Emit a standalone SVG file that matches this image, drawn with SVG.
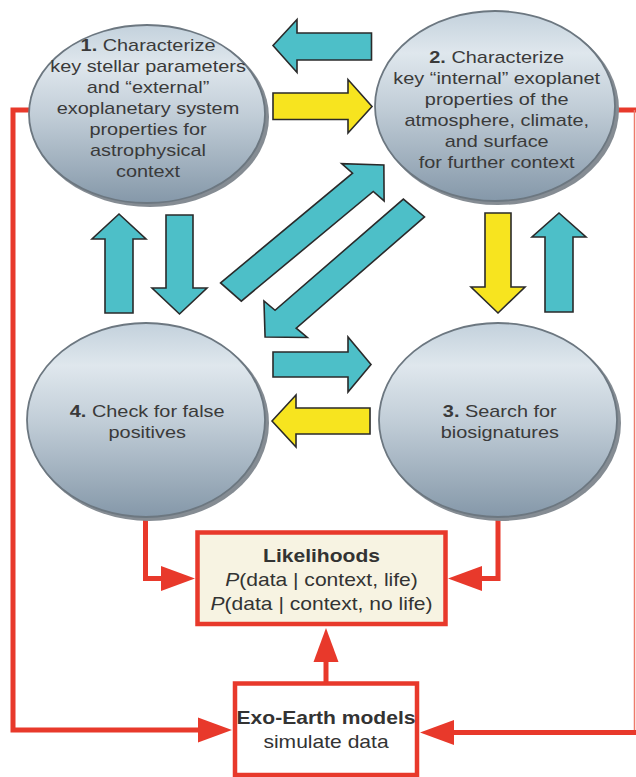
<svg xmlns="http://www.w3.org/2000/svg" width="636" height="777" viewBox="0 0 636 777">
<defs>
<linearGradient id="eg" x1="0" y1="0" x2="0" y2="1">
<stop offset="0" stop-color="#c3d1dc"/>
<stop offset="0.22" stop-color="#dfe7ed"/>
<stop offset="0.5" stop-color="#c2ced8"/>
<stop offset="1" stop-color="#8598a9"/>
</linearGradient>
<marker id="rh" markerUnits="userSpaceOnUse" viewBox="0 -13 36 26" markerWidth="36" markerHeight="26" refX="1" refY="0" orient="auto">
<path d="M0,-12.5 L34,0 L0,12.5 z" fill="#e8392b"/>
</marker>
<style>
.shadow{fill:#858c93}
.ell{fill:url(#eg);stroke:#6c7780;stroke-width:1.8}
.t{font-family:"Liberation Sans",Arial,Helvetica,sans-serif;font-size:17px;fill:#3a3a3a;text-anchor:middle}
.bt{font-family:"Liberation Sans",Arial,Helvetica,sans-serif;font-size:18px;fill:#333;text-anchor:middle}
.b{font-weight:bold}
.i{font-style:italic}
.cy{fill:#4dbfc8;stroke:#2a2a2a;stroke-width:1.6;stroke-linejoin:miter}
.ye{fill:#f7e41f;stroke:#2a2a2a;stroke-width:1.6;stroke-linejoin:miter}
.red{fill:none;stroke:#e8392b;stroke-width:5;stroke-linejoin:miter}
.box{stroke:#e8392b;stroke-width:4.5}
</style>
</defs>
<rect width="636" height="777" fill="#ffffff"/>

<g id="connectors">
<!-- red loops -->
<polyline class="red" points="29,110 13,110 13,730 199,730" marker-end="url(#rh)"/>
<polyline class="red" points="616,110 636,110"/>
<line x1="634.5" y1="110" x2="634.5" y2="732" stroke="#ef7a6c" stroke-width="1.5"/>
<polyline class="red" points="636,732.5 453,732.5" marker-end="url(#rh)"/>
<polyline class="red" points="145.5,518 145.5,578.5 162,578.5" marker-end="url(#rh)"/>
<polyline class="red" points="498,518 498,578.5 481,578.5" marker-end="url(#rh)"/>
<polyline class="red" points="326,683 326,661" marker-end="url(#rh)"/>

<!-- block arrows -->
<polygon class="cy" points="273,45.5 297,19.5 297,33 371.5,33 371.5,60 297,60 297,72.5"/>
<polygon class="ye" points="273,93 348,93 348,79.5 372,106.5 348,133 348,119.5 273,119.5"/>
<polygon class="cy" points="119,214 146,239 133,239 133,313 105,313 105,239 92,239"/>
<polygon class="cy" points="166,215 193,215 193,288 207,288 179.5,314 152,288 166,288"/>
<polygon class="ye" points="485,213 511,213 511,287 525,287 498,313 471,287 485,287"/>
<polygon class="cy" points="559,213 586,237 573,237 573,312 545,312 545,237 532,237"/>
<polygon class="cy" points="273,352 348,352 348,337 371,364.5 348,392 348,377 273,377"/>
<polygon class="ye" points="272,421 296,395 296,408 370,408 370,434 296,434 296,447"/>
<g transform="scale(1.17,1) translate(197.4,292) rotate(-44.2)">
<polygon class="cy" vector-effect="non-scaling-stroke" points="0,-12.7 157.3,-12.7 157.3,-26 182.3,0 157.3,26 157.3,12.7 0,12.7"/>
</g>
<g transform="scale(1.17,1) translate(353.8,208) rotate(134.6)">
<polygon class="cy" vector-effect="non-scaling-stroke" points="0,-12.7 156.2,-12.7 156.2,-26 181.2,0 156.2,26 156.2,12.7 0,12.7"/>
</g>
</g>

<g id="node1">
<ellipse class="shadow" cx="150" cy="117" rx="119" ry="90"/>
<ellipse class="ell" cx="147" cy="114" rx="118" ry="89"/>
<g transform="translate(148,0) scale(1.17,1)">
<text class="t" y="50.7"><tspan class="b">1.</tspan> Characterize</text>
<text class="t" y="71.7">key stellar parameters</text>
<text class="t" y="92.7">and “external”</text>
<text class="t" y="113.7">exoplanetary system</text>
<text class="t" y="134.7">properties for</text>
<text class="t" y="155.7">astrophysical</text>
<text class="t" y="176.7">context</text>
</g>
</g>

<g id="node2">
<ellipse class="shadow" cx="498" cy="109" rx="121" ry="96"/>
<ellipse class="ell" cx="495" cy="106" rx="120" ry="95"/>
<g transform="translate(496.7,0) scale(1.17,1)">
<text class="t" y="62.7"><tspan class="b">2.</tspan> Characterize</text>
<text class="t" y="83.7">key “internal” exoplanet</text>
<text class="t" y="104.7">properties of the</text>
<text class="t" y="125.7">atmosphere, climate,</text>
<text class="t" y="146.7">and surface</text>
<text class="t" y="167.7">for further context</text>
</g>
</g>

<g id="node3">
<ellipse class="shadow" cx="501" cy="423" rx="120" ry="98"/>
<ellipse class="ell" cx="498" cy="420" rx="119" ry="97"/>
<g transform="translate(499.8,0) scale(1.17,1)">
<text class="t" y="416.7"><tspan class="b">3.</tspan> Search for</text>
<text class="t" y="437.7">biosignatures</text>
</g>
</g>

<g id="node4">
<ellipse class="shadow" cx="149" cy="423" rx="120" ry="98"/>
<ellipse class="ell" cx="146" cy="420" rx="119" ry="97"/>
<g transform="translate(147.2,0) scale(1.17,1)">
<text class="t" y="416.7"><tspan class="b">4.</tspan> Check for false</text>
<text class="t" y="437.7">positives</text>
</g>
</g>

<g id="likelihoods">
<rect class="box" x="197.5" y="532.5" width="248" height="91.5" fill="#f7f3e2"/>
<g transform="translate(321.5,0) scale(1.17,1)">
<text class="bt b" y="562.5">Likelihoods</text>
<text class="bt" y="586.5"><tspan class="i">P</tspan>(data | context, life)</text>
<text class="bt" y="610.5"><tspan class="i">P</tspan>(data | context, no life)</text>
</g>
</g>

<g id="exoearth">
<rect class="box" x="235" y="683.5" width="182" height="91.5" fill="#ffffff"/>
<g transform="translate(326,0) scale(1.17,1)">
<text class="bt b" y="724">Exo-Earth models</text>
<text class="bt" y="748">simulate data</text>
</g>
</g>
</svg>
